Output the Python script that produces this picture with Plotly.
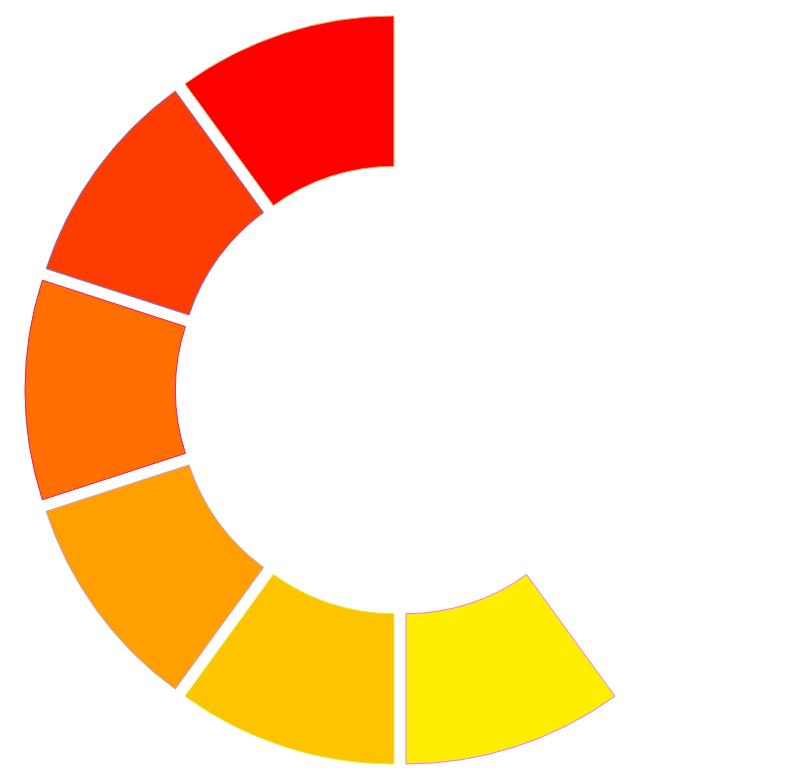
import plotly.graph_objects as go

# Data
labels = ["A", "B", "C", "D", "E", "F", ""]
values = [1, 1, 1, 1, 1, 1, 4]
fill_colors = ["#FF0000", "#FF3C00", "#FF6E00", "#FFA000", "#FFC400", "#FFEE00", "rgba(0,0,0,0)"]
edge_colors = ["#E8A060", "#7C7CF0", "#E0206A", "#C0A0E0", "#D4F040", "#E878F0", "rgba(0,0,0,0)"]
edge_widths = [1, 1, 1, 1, 1, 1, 0]
pulls = [0.055, 0.055, 0.055, 0.055, 0.055, 0.055, 0]

fig = go.Figure(
    go.Pie(
        labels=labels,
        values=values,
        sort=False,
        direction="counterclockwise",
        rotation=-36,
        hole=0.577,
        pull=pulls,
        textinfo="none",
        hoverinfo="skip",
        marker=dict(colors=fill_colors, line=dict(color=edge_colors, width=edge_widths)),
        showlegend=False,
    )
)

fig.update_layout(
    width=795,
    height=780,
    margin=dict(l=12, r=23, t=7, b=23),
    paper_bgcolor="white",
    plot_bgcolor="white",
    showlegend=False,
)

fig.write_html("out.html")
